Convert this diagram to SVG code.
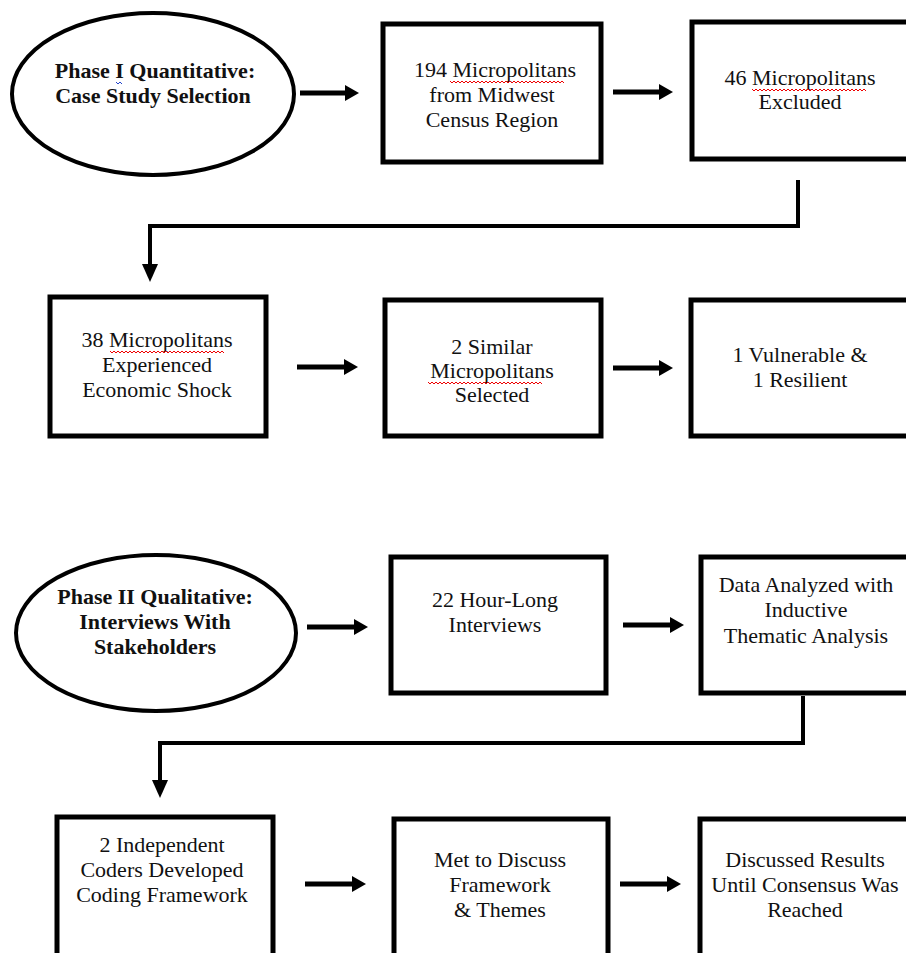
<svg xmlns="http://www.w3.org/2000/svg" width="906" height="953" viewBox="0 0 906 953">
<style>
.box{fill:#fff;stroke:#000;stroke-width:5}
.ell{fill:#fff;stroke:#000;stroke-width:4}
.t{font-family:"Liberation Serif","DejaVu Serif",serif;font-size:22px;fill:#111;text-anchor:middle}
.b{font-weight:bold}
.arr{stroke:#000;stroke-width:5;fill:none}
.con{stroke:#000;stroke-width:4;fill:none}
.sq{stroke:#e00;stroke-width:1;fill:none}
.sqb{stroke:#24c;stroke-width:1;fill:none}
</style>
<defs>
<marker id="ah" markerWidth="14" markerHeight="16" refX="0" refY="8" orient="auto" markerUnits="userSpaceOnUse"><path d="M0,0 L14,8 L0,16 Z" fill="#000"/></marker>
<marker id="ad" markerWidth="18" markerHeight="16" refX="0" refY="8" orient="auto" markerUnits="userSpaceOnUse"><path d="M0,0 L18,8 L0,16 Z" fill="#000"/></marker>
</defs>
<rect width="906" height="953" fill="#fff"/>

<g id="connectors">
<line class="arr" x1="300" y1="93" x2="345" y2="93" marker-end="url(#ah)"/>
<line class="arr" x1="613" y1="92" x2="659" y2="92" marker-end="url(#ah)"/>
<path class="con" d="M798,180 V226 H150 V264" marker-end="url(#ad)"/>
<line class="arr" x1="297" y1="367" x2="344" y2="367" marker-end="url(#ah)"/>
<line class="arr" x1="613" y1="368" x2="659" y2="368" marker-end="url(#ah)"/>
<line class="arr" x1="307" y1="627" x2="354" y2="627" marker-end="url(#ah)"/>
<line class="arr" x1="623" y1="625" x2="670" y2="625" marker-end="url(#ah)"/>
<path class="con" d="M803,696 V743 H160 V780" marker-end="url(#ad)"/>
<line class="arr" x1="305" y1="884" x2="352" y2="884" marker-end="url(#ah)"/>
<line class="arr" x1="620" y1="884" x2="667" y2="884" marker-end="url(#ah)"/>
</g>

<g id="n1">
<ellipse class="ell" cx="153" cy="94" rx="141" ry="81"/>
<text class="t b" x="155" y="78">Phase I Quantitative:</text>
<text class="t b" x="153" y="103">Case Study Selection</text>
<path class="sqb" d="M116,82 l2,2 l2,-2 l2,2"/>
</g>
<g id="n2">
<rect class="box" x="383" y="24" width="218" height="138"/>
<text class="t" x="495" y="77">194 Micropolitans</text>
<text class="t" x="492" y="102">from Midwest</text>
<text class="t" x="492" y="127">Census Region</text>
<path class="sq" d="M450,81 l2,2 l2,-2 l2,2 l2,-2 l2,2 l2,-2 l2,2 l2,-2 l2,2 l2,-2 l2,2 l2,-2 l2,2 l2,-2 l2,2 l2,-2 l2,2 l2,-2 l2,2 l2,-2 l2,2 l2,-2 l2,2 l2,-2 l2,2 l2,-2 l2,2 l2,-2 l2,2 l2,-2 l2,2 l2,-2 l2,2 l2,-2 l2,2 l2,-2 l2,2 l2,-2 l2,2 l2,-2 l2,2 l2,-2 l2,2 l2,-2 l2,2 l2,-2 l2,2 l2,-2 l2,2 l2,-2 l2,2 l2,-2 l2,2 l2,-2 l2,2 l2,-2 l2,2"/>
</g>
<g id="n3">
<rect class="box" x="692" y="22" width="220" height="137"/>
<text class="t" x="800" y="85">46 Micropolitans</text>
<text class="t" x="800" y="109">Excluded</text>
<path class="sq" d="M752,89 l2,2 l2,-2 l2,2 l2,-2 l2,2 l2,-2 l2,2 l2,-2 l2,2 l2,-2 l2,2 l2,-2 l2,2 l2,-2 l2,2 l2,-2 l2,2 l2,-2 l2,2 l2,-2 l2,2 l2,-2 l2,2 l2,-2 l2,2 l2,-2 l2,2 l2,-2 l2,2 l2,-2 l2,2 l2,-2 l2,2 l2,-2 l2,2 l2,-2 l2,2 l2,-2 l2,2 l2,-2 l2,2 l2,-2 l2,2 l2,-2 l2,2 l2,-2 l2,2 l2,-2 l2,2 l2,-2 l2,2 l2,-2 l2,2 l2,-2 l2,2 l2,-2 l2,2"/>
</g>

<g id="n4">
<rect class="box" x="50" y="297" width="216" height="139"/>
<text class="t" x="157" y="347">38 Micropolitans</text>
<text class="t" x="157" y="372">Experienced</text>
<text class="t" x="157" y="397">Economic Shock</text>
<path class="sq" d="M110,351 l2,2 l2,-2 l2,2 l2,-2 l2,2 l2,-2 l2,2 l2,-2 l2,2 l2,-2 l2,2 l2,-2 l2,2 l2,-2 l2,2 l2,-2 l2,2 l2,-2 l2,2 l2,-2 l2,2 l2,-2 l2,2 l2,-2 l2,2 l2,-2 l2,2 l2,-2 l2,2 l2,-2 l2,2 l2,-2 l2,2 l2,-2 l2,2 l2,-2 l2,2 l2,-2 l2,2 l2,-2 l2,2 l2,-2 l2,2 l2,-2 l2,2 l2,-2 l2,2 l2,-2 l2,2 l2,-2 l2,2 l2,-2 l2,2 l2,-2 l2,2 l2,-2 l2,2"/>
</g>
<g id="n5">
<rect class="box" x="385" y="300" width="216" height="136"/>
<text class="t" x="492" y="354">2 Similar</text>
<text class="t" x="492" y="378">Micropolitans</text>
<text class="t" x="492" y="402">Selected</text>
<path class="sq" d="M428,382 l2,2 l2,-2 l2,2 l2,-2 l2,2 l2,-2 l2,2 l2,-2 l2,2 l2,-2 l2,2 l2,-2 l2,2 l2,-2 l2,2 l2,-2 l2,2 l2,-2 l2,2 l2,-2 l2,2 l2,-2 l2,2 l2,-2 l2,2 l2,-2 l2,2 l2,-2 l2,2 l2,-2 l2,2 l2,-2 l2,2 l2,-2 l2,2 l2,-2 l2,2 l2,-2 l2,2 l2,-2 l2,2 l2,-2 l2,2 l2,-2 l2,2 l2,-2 l2,2 l2,-2 l2,2 l2,-2 l2,2 l2,-2 l2,2 l2,-2 l2,2 l2,-2 l2,2"/>
</g>
<g id="n6">
<rect class="box" x="691" y="300" width="221" height="136"/>
<text class="t" x="800" y="362">1 Vulnerable &amp;</text>
<text class="t" x="800" y="387">1 Resilient</text>
</g>

<g id="n7">
<ellipse class="ell" cx="156" cy="633" rx="140" ry="78"/>
<text class="t b" x="155" y="604">Phase II Qualitative:</text>
<text class="t b" x="155" y="629">Interviews With</text>
<text class="t b" x="155" y="654">Stakeholders</text>
</g>
<g id="n8">
<rect class="box" x="391" y="557" width="215" height="136"/>
<text class="t" x="495" y="607">22 Hour-Long</text>
<text class="t" x="495" y="632">Interviews</text>
</g>
<g id="n9">
<rect class="box" x="701" y="557" width="211" height="136"/>
<text class="t" x="806" y="592">Data Analyzed with</text>
<text class="t" x="806" y="617">Inductive</text>
<text class="t" x="806" y="643">Thematic Analysis</text>
</g>

<g id="n10">
<rect class="box" x="57" y="817" width="216" height="140"/>
<text class="t" x="162" y="852">2 Independent</text>
<text class="t" x="162" y="877">Coders Developed</text>
<text class="t" x="162" y="902">Coding Framework</text>
</g>
<g id="n11">
<rect class="box" x="394" y="819" width="214" height="140"/>
<text class="t" x="500" y="867">Met to Discuss</text>
<text class="t" x="500" y="892">Framework</text>
<text class="t" x="500" y="917">&amp; Themes</text>
</g>
<g id="n12">
<rect class="box" x="700" y="819" width="212" height="140"/>
<text class="t" x="805" y="867">Discussed Results</text>
<text class="t" x="805" y="892">Until Consensus Was</text>
<text class="t" x="805" y="917">Reached</text>
</g>
</svg>
